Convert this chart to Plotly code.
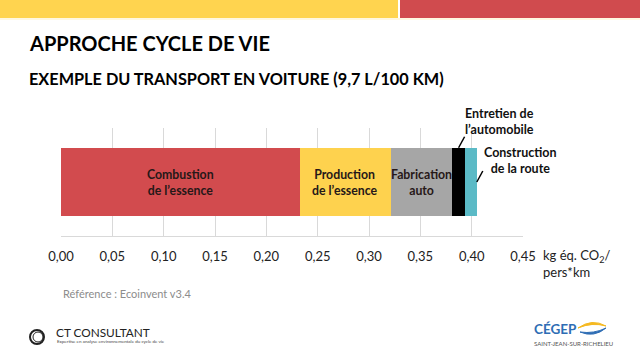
import plotly.graph_objects as go

# ---- data ----
stages = ["Combustion de l’essence", "Production de l’essence", "Fabrication auto",
          "Entretien de l’automobile", "Construction de la route"]
values = [0.233, 0.088, 0.060, 0.0125, 0.0115]
colors = ["#D24B4E", "#FED24E", "#A6A6A6", "#000000", "#5BBAC6"]
inside_labels = ["Combustion<br>de l’essence", "Production<br>de l’essence", "Fabrication<br>auto", None, None]
callout_labels = [None, None, None, "Entretien de<br>l’automobile", "Construction<br>de la route"]
tick_vals = [0, 0.05, 0.10, 0.15, 0.20, 0.25, 0.30, 0.35, 0.40, 0.45]
axis_title = "kg éq. CO<sub>2</sub>/<br>pers*km"

W, H = 640, 360
ML, MR, MT, MB = 61, 117, 128, 124
PW, PH = W - ML - MR, H - MT - MB
FONT = "Lato"


def px(x):
    return (x - ML) / PW


def py(y):
    return (H - MB - y) / PH


fig = go.Figure()
for name, v, c in zip(stages, values, colors):
    fig.add_trace(go.Bar(x=[v], y=[0], orientation="h", name=name,
                         marker=dict(color=c, line=dict(width=0)), width=0.634))

annotations = []
shapes = []
cum = 0
for v, lab in zip(values, inside_labels):
    mid = cum + v / 2
    if lab:
        annotations.append(dict(x=mid, y=0, xref="x", yref="y", text="<b>" + lab + "</b>",
                                showarrow=False, font=dict(family=FONT, size=12.3, color="#261818")))
    cum += v

# callouts
cum_ent = sum(values[:3]) + values[3] / 2
cum_con = sum(values[:4]) + values[4] / 2
annotations.append(dict(x=cum_ent, y=0.317, xref="x", yref="y", text="<b>" + callout_labels[3] + "</b>",
                        showarrow=False, xshift=41, yshift=26, align="center",
                        font=dict(family=FONT, size=12.5, color="#111")))
annotations.append(dict(x=cum_con, y=0.317, xref="x", yref="y", text="<b>" + callout_labels[4] + "</b>",
                        showarrow=False, xshift=50, yshift=-13, align="center",
                        font=dict(family=FONT, size=12.5, color="#111")))
shapes.append(dict(type="line", xref="x", yref="y", xsizemode="pixel", ysizemode="pixel",
                   xanchor=cum_ent, yanchor=0.317, x0=0, y0=0, x1=6, y1=11,
                   line=dict(color="#000", width=1.5)))
shapes.append(dict(type="line", xref="x", yref="y", xsizemode="pixel", ysizemode="pixel",
                   xanchor=cum_con + values[4] / 2, yanchor=0, x0=0, y0=0, x1=6, y1=11,
                   line=dict(color="#000", width=1.5)))

# top decorative bands
shapes.append(dict(type="rect", xref="paper", yref="paper", x0=px(0), x1=px(398), y0=py(0), y1=py(18),
                   fillcolor="#FFD44F", line=dict(width=0), layer="below"))
shapes.append(dict(type="rect", xref="paper", yref="paper", x0=px(400), x1=px(640), y0=py(0), y1=py(18),
                   fillcolor="#D04B4E", line=dict(width=0), layer="below"))
shapes.append(dict(type="line", xref="paper", yref="paper", x0=px(0), x1=px(640), y0=py(19), y1=py(19),
                   line=dict(color="#FFF6D8", width=1.5), layer="below"))

# titles
annotations.append(dict(x=px(27), y=py(43), xref="paper", yref="paper", xanchor="left", yanchor="middle",
                        text="<b>APPROCHE CYCLE DE VIE</b>", showarrow=False,
                        font=dict(family=FONT, size=20, color="#000")))
annotations.append(dict(x=px(27), y=py(78), xref="paper", yref="paper", xanchor="left", yanchor="middle",
                        text="<b>EXEMPLE DU TRANSPORT EN VOITURE (9,7 L/100 KM)</b>", showarrow=False,
                        font=dict(family=FONT, size=16.3, color="#000")))
# axis title
annotations.append(dict(x=px(541), y=py(263), xref="paper", yref="paper", xanchor="left", yanchor="middle",
                        text=axis_title, showarrow=False, align="left",
                        font=dict(family=FONT, size=13, color="#222")))
# reference
annotations.append(dict(x=px(61), y=py(293), xref="paper", yref="paper", xanchor="left", yanchor="middle",
                        text="Référence : Ecoinvent v3.4", showarrow=False,
                        font=dict(family=FONT, size=11, color="#8C8C8C")))

# CT Consultant logo (approximation)
shapes.append(dict(type="circle", xref="paper", yref="paper", x0=px(30), x1=px(44), y0=py(330), y1=py(344),
                   line=dict(color="#222", width=2)))
shapes.append(dict(type="circle", xref="paper", yref="paper", x0=px(33), x1=px(43), y0=py(332), y1=py(342),
                   line=dict(color="#222", width=1)))
annotations.append(dict(x=px(54), y=py(332), xref="paper", yref="paper", xanchor="left", yanchor="middle",
                        text="CT CONSULTANT", showarrow=False, font=dict(family=FONT, size=11.8, color="#222")))
annotations.append(dict(x=px(55), y=py(341.5), xref="paper", yref="paper", xanchor="left", yanchor="middle",
                        text="Expertise en analyse environnementale du cycle de vie", showarrow=False,
                        font=dict(family=FONT, size=4.5, color="#444")))
# CEGEP logo (approximation)
annotations.append(dict(x=px(532), y=py(329), xref="paper", yref="paper", xanchor="left", yanchor="middle",
                        text="<b>CÉGEP</b>", showarrow=False, font=dict(family=FONT, size=13.5, color="#2E6DB4")))
annotations.append(dict(x=px(532), y=py(343), xref="paper", yref="paper", xanchor="left", yanchor="middle",
                        text="SAINT-JEAN-SUR-RICHELIEU", showarrow=False, font=dict(family=FONT, size=6, color="#555")))
shapes.append(dict(type="path", xref="paper", yref="paper",
                   path=f"M {px(578)},{py(328)} Q {px(592)},{py(318)} {px(606)},{py(326)} Q {px(592)},{py(322)} {px(578)},{py(328)} Z",
                   fillcolor="#F5B921", line=dict(color="#F5B921", width=1)))
shapes.append(dict(type="path", xref="paper", yref="paper",
                   path=f"M {px(580)},{py(332)} Q {px(594)},{py(338)} {px(606)},{py(328)} Q {px(594)},{py(334)} {px(580)},{py(332)} Z",
                   fillcolor="#2E6DB4", line=dict(color="#2E6DB4", width=1)))

fig.update_layout(
    width=W, height=H, barmode="stack", showlegend=False,
    margin=dict(l=ML, r=MR, t=MT, b=MB, pad=0),
    paper_bgcolor="#FFFFFF", plot_bgcolor="#FFFFFF",
    separators=", ",
    bargap=0,
    xaxis=dict(range=[0, 0.45], tickvals=tick_vals, tickformat=".2f", showgrid=True,
               gridcolor="#D9D9D9", gridwidth=1, zeroline=False, showline=True, linecolor="#D9D9D9",
               ticks="", ticklabelstandoff=8,
               tickfont=dict(family=FONT, size=13, color="#222")),
    yaxis=dict(range=[-0.5, 0.5], showticklabels=False, showgrid=False, zeroline=False, fixedrange=True),
    annotations=annotations, shapes=shapes,
    font=dict(family=FONT),
)

fig.write_html("out.html", config={"displayModeBar": False},
               post_script="document.body.style.margin='0';document.body.style.overflow='hidden';")
